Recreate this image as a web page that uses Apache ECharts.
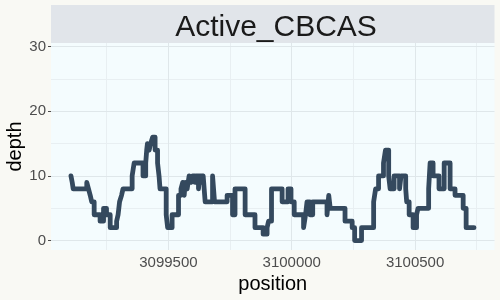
<!DOCTYPE html>
<html>
<head>
<meta charset="utf-8">
<script src="https://cdn.jsdelivr.net/npm/echarts@6/dist/echarts.min.js"></script>
<style>
  html, body { margin: 0; padding: 0; background: #f9f9f4; }
  #chart { width: 500px; height: 300px; }
</style>
</head>
<body>
<div id="chart"></div>
<script>
// ---- data ----
const panelTitle = "Active_CBCAS";
const xTicks = [3099500, 3100000, 3100500];
const xMinorTicks = [3099250, 3099750, 3100250, 3100750];
const yTicks = [0, 10, 20, 30];
const yMinorTicks = [5, 15, 25];
const positions = [
  3099105, 3099110, 3099114, 3099169, 3099176, 3099183, 3099189, 3099199, 3099223, 3099237,
  3099249, 3099264, 3099290, 3099296, 3099302, 3099310, 3099316, 3099353, 3099361, 3099397,
  3099408, 3099412, 3099415, 3099422, 3099428, 3099436, 3099446, 3099456, 3099462, 3099466,
  3099491, 3099497, 3099515, 3099541, 3099551, 3099558, 3099564, 3099568, 3099576, 3099584,
  3099592, 3099598, 3099608, 3099612, 3099622, 3099626, 3099637, 3099641, 3099649, 3099679,
  3099687, 3099738, 3099760, 3099770, 3099811, 3099851, 3099884, 3099900, 3099906, 3099918,
  3099961, 3099985, 3099997, 3100010, 3100048, 3100056, 3100062, 3100074, 3100085, 3100143,
  3100150, 3100156, 3100216, 3100245, 3100255, 3100283, 3100332, 3100340, 3100352, 3100372,
  3100380, 3100393, 3100399, 3100415, 3100437, 3100443, 3100462, 3100466, 3100476, 3100492,
  3100506, 3100512, 3100555, 3100558, 3100561, 3100573, 3100597, 3100618, 3100642, 3100662,
  3100695, 3100707, 3100739
];
const depths = [
  10, 9, 8, 9, 8, 7, 6, 4, 3, 5,
  4, 2, 3, 4, 6, 7, 8, 10, 12, 10,
  12, 14, 15, 14, 15, 16, 14, 12, 10, 8,
  4, 2, 4, 7, 8, 9, 7, 9, 8, 10,
  9, 10, 9, 10, 8, 10, 9, 10, 6, 10,
  6, 7, 4, 8, 4, 2, 1, 2, 3, 8,
  6, 8, 6, 4, 2, 4, 6, 4, 6, 4,
  7, 5, 3, 2, 0, 2, 6, 8, 10, 12,
  14, 10, 8, 10, 8, 10, 8, 6, 4, 2,
  4, 5, 8, 10, 12, 10, 8, 12, 8, 7,
  5, 2, 2
];
const xRange = [3099024, 3100822];
const yRange = [-1.45, 30.55];

// ---- chart ----
const chart = echarts.init(document.getElementById('chart'), null, { renderer: 'canvas' });
const seriesData = positions.map((p, i) => [p, depths[i]]);

const minorStyle = { color: '#e8eff2', width: 1, type: 'solid' };
const majorStyle = { color: '#dfe7ea', width: 1, type: 'solid' };
const gridMarks = []
  .concat(yMinorTicks.map(v => ({ yAxis: v, lineStyle: minorStyle })))
  .concat(xMinorTicks.map(v => ({ xAxis: v, lineStyle: minorStyle })))
  .concat(yTicks.map(v => ({ yAxis: v, lineStyle: majorStyle })))
  .concat(xTicks.map(v => ({ xAxis: v, lineStyle: majorStyle })));

chart.setOption({
  backgroundColor: '#f9f9f4',
  animation: false,
  title: {
    text: panelTitle,
    left: 271,
    top: 8,
    textAlign: 'center',
    textStyle: { fontFamily: 'Liberation Sans', fontSize: 30, fontWeight: 'normal', color: '#1a1a1a' }
  },
  graphic: [{
    type: 'rect',
    shape: { x: 51, y: 5, width: 443.5, height: 38 },
    style: { fill: '#e1e5ea' },
    z: -1
  }],
  grid: {
    left: 51, right: 5.5, top: 43, bottom: 50,
    outerBoundsMode: 'none',
    containLabel: false,
    show: true, backgroundColor: '#f4fcfe', borderWidth: 0
  },
  xAxis: {
    type: 'value',
    min: xRange[0], max: xRange[1],
    name: 'position',
    nameLocation: 'middle',
    nameGap: 24,
    nameMoveOverlap: false,
    nameTextStyle: { fontFamily: 'Liberation Sans', fontSize: 20, color: '#000' },
    axisLine: { show: false },
    axisTick: { show: true, length: 3, lineStyle: { color: '#4d4d4d' }, customValues: xTicks },
    axisLabel: {
      customValues: xTicks,
      fontFamily: 'Liberation Sans', fontSize: 15, color: '#4d4d4d', margin: 5,
      formatter: v => String(v)
    },
    splitLine: { show: false }
  },
  yAxis: {
    type: 'value',
    min: yRange[0], max: yRange[1],
    name: 'depth',
    nameLocation: 'middle',
    nameGap: 26,
    nameMoveOverlap: false,
    nameTextStyle: { fontFamily: 'Liberation Sans', fontSize: 20, color: '#000' },
    axisLine: { show: false },
    axisTick: { show: true, length: 3, lineStyle: { color: '#4d4d4d' }, customValues: yTicks },
    axisLabel: {
      customValues: yTicks,
      fontFamily: 'Liberation Sans', fontSize: 15, color: '#4d4d4d', margin: 5,
      formatter: v => String(v)
    },
    splitLine: { show: false }
  },
  series: [
    {
      type: 'line',
      data: [],
      silent: true,
      z: 1,
      markLine: {
        silent: true,
        symbol: 'none',
        label: { show: false },
        data: gridMarks,
        animation: false
      }
    },
    {
      type: 'line',
      data: seriesData,
      step: 'end',
      showSymbol: false,
      z: 5,
      lineStyle: { color: '#34495e', width: 4.8, join: 'round', cap: 'round' }
    }
  ]
});
</script>
</body>
</html>
